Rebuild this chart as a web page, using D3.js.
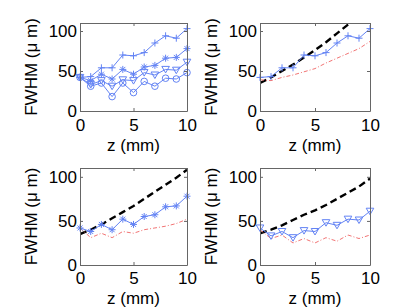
<!DOCTYPE html>
<html>
<head>
<meta charset="utf-8">
<script src="https://cdn.jsdelivr.net/npm/d3@7"></script>
<style>
  body { margin: 0; background: #fff; }
  svg { display: block; font-family: "Liberation Sans", Arial, sans-serif; }
</style>
</head>
<body>
<svg id="chart" width="409" height="308"></svg>
<script>
// z positions (mm)
const zVals = [0, 1, 2, 3, 4, 5, 6, 7, 8, 9, 10];

// measured FWHM (um), one per marker type
const fwhmPlus = [42, 43, 54, 54, 70, 69, 73, 85, 94, 91, 103];
const fwhmStar = [42, 38, 46, 40, 52, 46, 55, 57, 66, 67, 78];
const fwhmTri  = [42, 33, 38, 31, 39, 38, 48, 45, 52, 51, 61];
const fwhmCirc = [42, 31, 35, 18, 35, 23, 37, 31, 41, 40, 48];

// dashed black curves (panels 2,3,4)
const blackB = [35, 42, 50, 58, 67, 76, 86, 97, 108, 119, 131];
const blackC = [35, 40, 46, 53, 60, 67, 75, 83, 91, 99, 108];
const blackD = [36, 40, 45, 51, 57, 62, 68, 75, 82, 89, 98];

// dash-dot red curves (panels 2,3,4)
const redB = [39, 38, 42, 45, 49, 53, 60, 66, 72, 78, 87];
const redC = [42, 31, 36, 31, 38, 36, 40, 42, 44, 47, 52];
const redD = [40, 30, 34, 25, 30, 25, 31, 27, 34, 30, 34];

const xTicks = [0, 5, 10];
const yTicks = [0, 50, 100];
const xLabel = "z (mm)";
const yLabel = "FWHM (\u03bc m)";

const BLUE = "#6383f4";
const RED = "#f27474";
const BOX = "#666";
const FS = 17;

const markers = {
  plus: "M-3.5,0H3.5M0,-3.5V3.5",
  star: "M-3.5,0H3.5M0,-3.5V3.5M-2.5,-2.5L2.5,2.5M-2.5,2.5L2.5,-2.5",
  tri: "M-3.8,-3L3.8,-3L0,3.5Z",
  circ: "M3.3,0A3.3,3.3 0 1,1 -3.3,0A3.3,3.3 0 1,1 3.3,0Z"
};

const panels = [
  { l: 80, r: 187, t: 23, b: 111, ylx: 31, xlb: 151, pad: 8,
    blue: [[fwhmPlus, "plus"], [fwhmStar, "star"], [fwhmTri, "tri"], [fwhmCirc, "circ"]] },
  { l: 260, r: 370, t: 23, b: 111, ylx: 211, xlb: 151, pad: 8,
    black: blackB, red: redB, blue: [[fwhmPlus, "plus"]] },
  { l: 80, r: 187, t: 168, b: 265, ylx: 31, xlb: 304, pad: 7,
    black: blackC, red: redC, blue: [[fwhmStar, "star"]] },
  { l: 260, r: 370, t: 168, b: 265, ylx: 211, xlb: 304, pad: 7,
    black: blackD, red: redD, blue: [[fwhmTri, "tri"]] }
];

const svg = d3.select("#chart");

panels.forEach((p, i) => {
  const x = d3.scaleLinear().domain([0, 10]).range([p.l, p.r]);
  const y = d3.scaleLinear().domain([0, 110]).range([p.b, p.t]);

  const clipId = "clip" + i;
  svg.append("clipPath").attr("id", clipId)
    .append("rect")
    .attr("x", p.l).attr("y", p.t)
    .attr("width", p.r - p.l).attr("height", p.b - p.t);

  const plot = svg.append("g").attr("clip-path", `url(#${clipId})`);

  const line = vals => d3.line()
    .x((d, j) => x(zVals[j]))
    .y(d => y(d))(vals);

  if (p.black) {
    plot.append("path")
      .attr("d", line(p.black))
      .attr("fill", "none")
      .attr("stroke", "#000")
      .attr("stroke-width", 2.4)
      .attr("stroke-dasharray", "7,4");
  }
  if (p.red) {
    plot.append("path")
      .attr("d", line(p.red))
      .attr("fill", "none")
      .attr("stroke", RED)
      .attr("stroke-width", 1)
      .attr("stroke-dasharray", "4,2,1,2");
  }

  p.blue.forEach(([vals, m]) => {
    svg.append("path")
      .attr("d", line(vals))
      .attr("fill", "none")
      .attr("stroke", BLUE)
      .attr("stroke-width", 1);
    svg.selectAll(null)
      .data(vals)
      .enter()
      .append("path")
      .attr("transform", (d, j) => `translate(${x(zVals[j])},${y(d)})`)
      .attr("d", markers[m])
      .attr("fill", "none")
      .attr("stroke", BLUE)
      .attr("stroke-width", 1);
  });

  // axes, MATLAB style: inward ticks, full box
  const styleAxis = g => {
    g.select(".domain").attr("stroke", BOX);
    g.selectAll(".tick line").attr("stroke", BOX);
    g.selectAll("text").attr("fill", "#000").attr("font-size", FS);
  };

  svg.append("g")
    .attr("transform", `translate(0,${p.b})`)
    .call(d3.axisBottom(x).tickValues(xTicks).tickSizeInner(-3).tickSizeOuter(0).tickPadding(p.pad))
    .attr("font-family", null)
    .call(styleAxis);

  svg.append("g")
    .attr("transform", `translate(${p.l},0)`)
    .call(d3.axisLeft(y).tickValues(yTicks).tickSizeInner(-3).tickSizeOuter(0).tickPadding(3))
    .attr("font-family", null)
    .call(styleAxis);

  svg.append("g")
    .attr("transform", `translate(0,${p.t})`)
    .call(d3.axisTop(x).tickValues(xTicks).tickSizeInner(-3).tickSizeOuter(0).tickFormat(""))
    .call(styleAxis);

  svg.append("g")
    .attr("transform", `translate(${p.r},0)`)
    .call(d3.axisRight(y).tickValues(yTicks).tickSizeInner(-3).tickSizeOuter(0).tickFormat(""))
    .call(styleAxis);

  svg.append("text")
    .attr("x", (p.l + p.r) / 2)
    .attr("y", p.xlb)
    .attr("text-anchor", "middle")
    .attr("font-size", FS)
    .text(xLabel);

  svg.append("text")
    .attr("transform", `translate(${p.ylx},${(p.t + p.b) / 2}) rotate(-90)`)
    .attr("dy", "0.35em")
    .attr("text-anchor", "middle")
    .attr("font-size", FS)
    .text(yLabel);
});
</script>
</body>
</html>
